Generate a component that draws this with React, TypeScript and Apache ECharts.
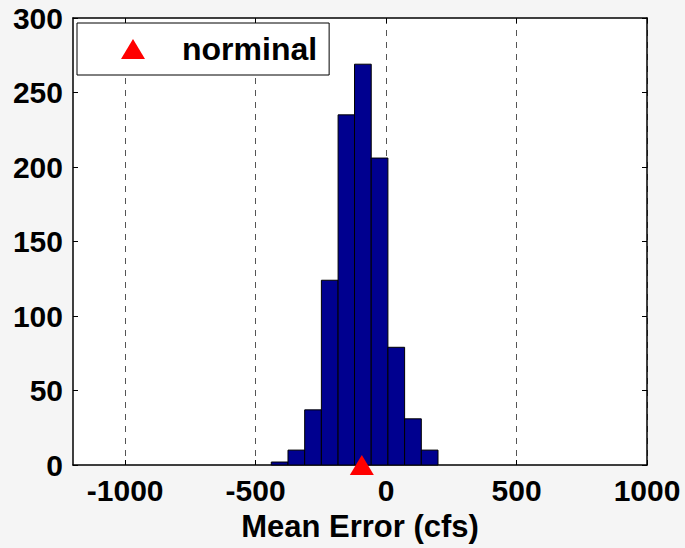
import React, { useEffect, useRef } from "react";
import * as echarts from "echarts";

const binEdges = [-440, -376, -312, -248, -184, -121, -57, 7, 71, 135, 199];
const counts = [2, 10, 37, 124, 235, 269, 206, 79, 31, 10];
const nominalValue = -93;
const xTickValues = [-1000, -500, 0, 500, 1000];
const legendLabel = "norminal";
const xTitle = "Mean Error (cfs)";

const FONT = "Arial, 'Liberation Sans', sans-serif";

export default function App() {
  const ref = useRef<HTMLDivElement>(null);
  useEffect(() => {
    document.body.style.margin = "0";
    document.body.style.background = "#f5f5f5";
    const chart = echarts.init(ref.current!, null, { renderer: "svg" });
    const histData = counts.map((c, i) => [binEdges[i], binEdges[i + 1], c]);
    const labelStyle = { fontFamily: FONT, fontWeight: "bold" as const, fontSize: 30, color: "#000" };
    const fmt = (v: number) => String(v);
    chart.setOption({
      animation: false,
      backgroundColor: "#f5f5f5",
      grid: {
        left: 73, right: 38, top: 18, bottom: 83,
        show: true, backgroundColor: "#fff", borderColor: "#000", borderWidth: 0,
      },
      legend: {
        left: 77, top: 23,
        padding: [10, 12, 10, 44],
        borderColor: "#000", borderWidth: 1, backgroundColor: "#fff",
        itemWidth: 24, itemHeight: 20,
        data: [{ name: legendLabel, icon: "triangle", itemStyle: { color: "#ff0000", opacity: 1 } }],
        textStyle: { ...labelStyle, fontSize: 32, padding: [0, 0, 0, 32] },
      },
      xAxis: [
        {
          type: "value", min: -1200, max: 1000, position: "bottom",
          name: xTitle, nameLocation: "middle", nameGap: 46,
          nameTextStyle: { ...labelStyle, fontSize: 31 },
          axisLine: { show: true, onZero: false, lineStyle: { color: "#000", width: 1.5 } },
          axisTick: { show: true, inside: true, length: 5, customValues: xTickValues, lineStyle: { color: "#000" } },
          axisLabel: { ...labelStyle, margin: 10, customValues: xTickValues, formatter: fmt },
          splitLine: { show: true, lineStyle: { color: "#555", type: [6, 6], width: 1 } },
        },
        {
          type: "value", min: -1200, max: 1000, position: "top",
          axisLine: { show: true, onZero: false, lineStyle: { color: "#000", width: 1.5 } },
          axisTick: { show: true, inside: true, length: 5, customValues: xTickValues, lineStyle: { color: "#000" } },
          axisLabel: { show: false, customValues: xTickValues },
          splitLine: { show: false },
        },
      ],
      yAxis: [
        {
          type: "value", min: 0, max: 300, interval: 50, position: "left",
          axisLine: { show: true, onZero: false, lineStyle: { color: "#000", width: 1.5 } },
          axisTick: { show: true, inside: true, length: 5, lineStyle: { color: "#000" } },
          axisLabel: { ...labelStyle, margin: 10, formatter: fmt },
          splitLine: { show: false },
        },
        {
          type: "value", min: 0, max: 300, interval: 50, position: "right",
          axisLine: { show: true, onZero: false, lineStyle: { color: "#000", width: 1.5 } },
          axisTick: { show: true, inside: true, length: 5, lineStyle: { color: "#000" } },
          axisLabel: { show: false },
          splitLine: { show: false },
        },
      ],
      series: [
        {
          type: "custom",
          name: "hist",
          xAxisIndex: 0, yAxisIndex: 0,
          encode: { x: [0, 1], y: 2 },
          data: histData,
          renderItem: (params: any, api: any) => {
            const x0 = api.value(0), x1 = api.value(1), y = api.value(2);
            const p0 = api.coord([x0, y]);
            const p1 = api.coord([x1, 0]);
            return {
              type: "rect",
              shape: { x: p0[0], y: p0[1], width: p1[0] - p0[0], height: p1[1] - p0[1] },
              style: { fill: "#00008F", stroke: "#000", lineWidth: 1 },
            };
          },
        },
        {
          type: "scatter",
          name: legendLabel,
          xAxisIndex: 0, yAxisIndex: 0,
          symbol: "triangle",
          symbolSize: [24, 20],
          clip: false,
          itemStyle: { color: "#ff0000", opacity: 1 },
          data: [[nominalValue, 0]],
          z: 5,
        },
      ],
    });
    return () => chart.dispose();
  }, []);
  return <div ref={ref} style={{ width: 685, height: 548 }} />;
}
